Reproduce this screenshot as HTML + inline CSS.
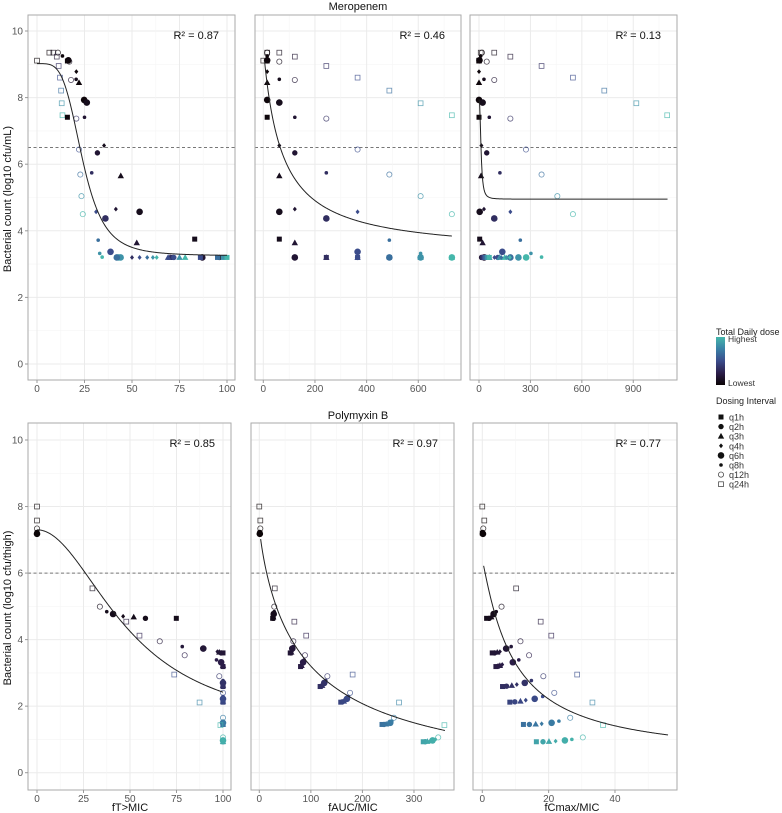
<!DOCTYPE html>
<html><head><meta charset="utf-8">
<style>
html,body{margin:0;padding:0;background:#fff;}
svg{display:block;font-family:"Liberation Sans",Arial,sans-serif;}
</style></head>
<body>
<svg id="chart" width="782" height="813" viewBox="0 0 782 813" xmlns="http://www.w3.org/2000/svg">
<defs>
<linearGradient id="doseGrad" x1="0" y1="1" x2="0" y2="0">
<stop offset="0" stop-color="#0b0405"/><stop offset="0.25" stop-color="#2c1e4a"/><stop offset="0.5" stop-color="#3b4c8b"/><stop offset="0.75" stop-color="#3a80a6"/><stop offset="1" stop-color="#45b7ab"/>
</linearGradient>
</defs>
<g id="panels"></g>
<text x="358" y="10" text-anchor="middle" font-size="11" fill="#111">Meropenem</text>
<text x="358" y="419" text-anchor="middle" font-size="11" fill="#111">Polymyxin B</text>
<text x="130" y="811" text-anchor="middle" font-size="11" fill="#111">fT&gt;MIC</text>
<text x="353" y="811" text-anchor="middle" font-size="11" fill="#111">fAUC/MIC</text>
<text x="572" y="811" text-anchor="middle" font-size="11" fill="#111">fCmax/MIC</text>
<text transform="translate(11,199) rotate(-90)" text-anchor="middle" font-size="11" fill="#111">Bacterial count (log10 cfu/mL)</text>
<text transform="translate(11,608) rotate(-90)" text-anchor="middle" font-size="11" fill="#111">Bacterial count (log10 cfu/thigh)</text>
<g id="legend">
<text x="716" y="335" font-size="9" fill="#222">Total Daily dose</text>
<rect x="716" y="337" width="9" height="48" fill="url(#doseGrad)"/>
<text x="728" y="342" font-size="8.5" fill="#333">Highest</text>
<text x="728" y="386" font-size="8.5" fill="#333">Lowest</text>
<text x="716" y="404" font-size="9" fill="#222">Dosing Interval</text>
<g id="legItems"></g>
</g>
</svg>
<script>
// ---------- Meropenem data (per regimen) ----------
const merY     = [9.11,9.35,9.10,9.12,9.25,9.35,9.35,9.23,9.08,8.78,8.45,8.55,8.53,8.95,8.6,8.21,7.83,7.47,7.93,7.85,7.41,7.41,7.37,6.56,6.34,6.44,5.74,5.69,5.65,5.04,4.57,4.65,4.37,4.57,4.5,3.75,3.64,3.72,3.37,3.32,3.2,3.2,3.2,3.2,3.2,3.2,3.2,3.2,3.21,3.2,3.2,3.2,3.2,3.2,3.2,3.2,3.2,3.2,3.2,3.2,3.2];
const merShape = ["q24h","q12h","q1h","q6h","q8h","q24h","q24h","q24h","q12h","q4h","q3h","q8h","q12h","q24h","q24h","q24h","q24h","q24h","q6h","q6h","q1h","q8h","q12h","q4h","q2h","q12h","q8h","q12h","q3h","q12h","q6h","q4h","q6h","q4h","q12h","q1h","q3h","q8h","q6h","q8h","q6h","q2h","q3h","q1h","q4h","q4h","q3h","q2h","q8h","q6h","q6h","q6h","q3h","q3h","q4h","q4h","q4h","q1h","q1h","q1h","q1h"];
const merAUC   = [0,15,15,15,15,15,62,122,62,15,15,62,122,244,365,488,609,730,15,62,15,122,244,62,122,365,244,488,62,609,62,122,244,365,730,62,122,488,365,609,122,122,244,244,244,365,365,365,730,730,609,488,609,730,488,609,730,365,488,609,730];
const merFT    = [0,11,16,16.5,13.4,6.5,8.6,10.4,17,20.7,22.1,20.6,17.9,11.4,12.1,12.7,13,13.4,24.8,26.2,16,25,20.7,35.3,31.8,22.1,28.8,22.8,44.1,23.4,54,41.5,36,31.1,24.1,83,52.5,32.2,38.7,33,87,96,70,71,50,54,69,72,34.3,43,44,42,75,78,58,61,63,86,95,98,100];
const merCmax  = [0,17,0,3,10,10,89,183,45,0,0,29,89,365,548,731,918,1098,0,21,0,60,183,14,45,274,122,365,12,457,4,29,89,183,548,4,21,241,136,303,30,15,40,20,60,90,60,110,365,275,230,183,120,150,130,160,180,30,40,50,60];
const merMaxAUC = 730;
// ---------- Polymyxin B data (per regimen) ----------
const polY     = [8.0,7.58,7.34,7.2,7.22,7.18,5.54,4.99,4.64,4.64,4.68,4.70,4.77,4.84,4.54,4.12,3.95,3.6,3.6,3.62,3.64,3.73,3.79,3.53,3.19,3.2,3.22,3.25,3.32,3.39,2.95,2.9,2.59,2.6,2.62,2.65,2.7,2.77,2.4,2.12,2.13,2.15,2.18,2.22,2.29,2.11,1.65,1.45,1.45,1.46,1.47,1.5,1.55,1.43,1.06,0.93,0.93,0.94,0.95,0.97,1.0];
const polShape = ["q24h","q24h","q12h","q1h","q2h","q6h","q24h","q12h","q1h","q2h","q3h","q4h","q6h","q8h","q24h","q24h","q12h","q1h","q2h","q3h","q4h","q6h","q8h","q12h","q1h","q2h","q3h","q4h","q6h","q8h","q24h","q12h","q1h","q2h","q3h","q4h","q6h","q8h","q12h","q1h","q2h","q3h","q4h","q6h","q8h","q24h","q12h","q1h","q2h","q3h","q4h","q6h","q8h","q24h","q12h","q1h","q2h","q3h","q4h","q6h","q8h"];
const polFT    = [0,0,0,0,0,0,29.8,33.8,74.9,58.3,52,46.3,40.9,37.5,48,55.1,66,100,99,98,97,89.4,78.1,79.4,100,100,100,99.5,99,96.5,73.8,98,100,100,100,100,100,100,100,100,100,100,100,100,100,87.4,100,100,100,100,100,100,100,98.6,100,100,100,100,100,100,100];
const polAUC   = [0,2,2,1,1,1,30,29,26,27,27,28,28,29,68,91,66,60,61,62,63,64,66,88.6,80,81,82,83,85,87,181,132,118,120,122,124,126,129,176,158,161,164,167,170,173,271,261,238,242,246,250,254,257,359,347,318,322,326,331,336,341];
const polCmax  = [0,0.6,0.3,0,0.1,0.2,10.2,5.8,1.3,2.1,2.7,3.0,3.4,4.2,17.6,20.8,11.5,3.0,3.7,4.5,5.3,7.2,8.7,14.1,4.1,4.8,5.3,6.0,9.2,11.0,28.6,18.4,6.1,7.3,8.9,10.4,12.8,14.8,21.7,8.3,9.8,11.5,13.1,15.8,18.2,33.2,26.5,12.4,14.2,16.1,17.9,20.9,23.1,36.4,30.3,16.3,18.3,20.1,22.1,24.9,27];
const polMaxAUC = 350;
// ---------- annotations ----------
const r2Labels = ["R² = 0.87","R² = 0.46","R² = 0.13","R² = 0.85","R² = 0.97","R² = 0.77"];
const yTicks = [0,2,4,6,8,10];
const xTicksP1 = [0,25,50,75,100];
const xTicksP2 = [0,200,400,600];
const xTicksP3 = [0,300,600,900];
const xTicksP4 = [0,25,50,75,100];
const xTicksP5 = [0,100,200,300];
const xTicksP6 = [0,20,40];
const intervals = ["q1h","q2h","q3h","q4h","q6h","q8h","q12h","q24h"];

const NS = "http://www.w3.org/2000/svg";
function mk(tag, attrs, parent){ const e=document.createElementNS(NS,tag); for(const k in attrs) e.setAttribute(k,attrs[k]); if(parent) parent.appendChild(e); return e; }
function lerp(a,b,t){return a+(b-a)*t;}
const stops=[[0,[11,4,5]],[0.25,[44,30,74]],[0.5,[59,76,139]],[0.75,[58,128,166]],[1,[69,183,171]]];
function doseColor(d){ d=Math.max(0,Math.min(1,d)); for(let i=1;i<stops.length;i++){ if(d<=stops[i][0]){ const t=(d-stops[i-1][0])/(stops[i][0]-stops[i-1][0]); const c=stops[i-1][1].map((v,j)=>Math.round(lerp(v,stops[i][1][j],t))); return `rgb(${c[0]},${c[1]},${c[2]})`; } } return "rgb(69,183,171)"; }

function drawSymbol(g, shape, cx, cy, col){
  let e;
  if(shape==="q1h") e=mk("rect",{x:cx-2.5,y:cy-2.5,width:5,height:5,fill:col},g);
  else if(shape==="q2h") e=mk("circle",{cx:cx,cy:cy,r:2.7,fill:col},g);
  else if(shape==="q3h") e=mk("polygon",{points:`${cx},${cy-3.3} ${cx+3.2},${cy+2.4} ${cx-3.2},${cy+2.4}`,fill:col},g);
  else if(shape==="q4h") e=mk("polygon",{points:`${cx},${cy-2.4} ${cx+2},${cy} ${cx},${cy+2.4} ${cx-2},${cy}`,fill:col},g);
  else if(shape==="q6h") e=mk("circle",{cx:cx,cy:cy,r:3.3,fill:col},g);
  else if(shape==="q8h") e=mk("circle",{cx:cx,cy:cy,r:1.8,fill:col},g);
  else if(shape==="q12h") e=mk("circle",{cx:cx,cy:cy,r:2.6,fill:"none",stroke:col,"stroke-width":0.8,"stroke-opacity":0.75},g);
  else e=mk("rect",{x:cx-2.4,y:cy-2.4,width:4.8,height:4.8,fill:"none",stroke:col,"stroke-width":0.8,"stroke-opacity":0.75},g);
  return e;
}

const panels = [
  {name:"meropenem-ft", L:28,R:235,T:15,B:380, x0:37,  k:1.9,    y0:364,  ky:33.3, xmin:-5,  xmax:104, ticks:xTicksP1, minor:12.5, thr:6.5, grp:"mer", xv:merFT,  ylab:true,  curve:x=>3.25+5.77/(1+Math.pow(x/24,4.2)), cx:[0,100]},
  {name:"meropenem-fauc",L:255,R:461,T:15,B:380, x0:263.3,k:0.2583,y0:364,ky:33.3, xmin:-30, xmax:770, ticks:xTicksP2, minor:100, thr:6.5, grp:"mer", xv:merAUC, ylab:false, curve:x=>9.5-6.2*x/(70+x), cx:[5,730]},
  {name:"meropenem-fcmax",L:470,R:677,T:15,B:380,x0:479,  k:0.1714,y0:364,ky:33.3, xmin:-50, xmax:1150,ticks:xTicksP3, minor:150, thr:6.5, grp:"mer", xv:merCmax,ylab:false, curve:x=>4.95+3.0/(1+Math.pow(x/12,2.5)), cx:[0,1100]},
  {name:"polymyxin-ft", L:28,R:231,T:423,B:790, x0:37,  k:1.86,   y0:772.7,ky:33.27,xmin:-5,  xmax:104, ticks:xTicksP4, minor:12.5, thr:6.0, grp:"pol", xv:polFT,  ylab:true,  curve:x=>1.2+6.1/(1+Math.pow(x/50,2)), cx:[0,100]},
  {name:"polymyxin-fauc",L:251,R:454,T:423,B:790,x0:259.3,k:0.5156,y0:772.7,ky:33.27,xmin:-17, xmax:377, ticks:xTicksP5, minor:50,  thr:6.0, grp:"pol", xv:polAUC, ylab:false, curve:x=>7.4-8*Math.pow(x,0.85)/(Math.pow(89,0.85)+Math.pow(x,0.85)), cx:[2.6,360]},
  {name:"polymyxin-fcmax",L:473,R:677,T:423,B:790,x0:482.3,k:3.317,y0:772.7,ky:33.27,xmin:-2.8,xmax:58.5,ticks:xTicksP6, minor:10, thr:6.0, grp:"pol", xv:polCmax,ylab:false, curve:x=>6.4-6*Math.pow(x,1.1)/(Math.pow(9.35,1.1)+Math.pow(x,1.1)), cx:[0.4,56]}
];

const root=document.getElementById("panels");
panels.forEach((p,pi)=>{
  const g=mk("g",{},root);
  
  
  const sx=v=>p.x0+p.k*v, sy=v=>p.y0-p.ky*v;
  const grid=mk("g",{},g);
  
  
  for(let v=-1; v<=11; v++){ const y=sy(v); if(y<p.T||y>p.B) continue; mk("line",{x1:p.L,x2:p.R,y1:y,y2:y,stroke:v%2===0?"#ebebeb":"#f5f5f5","stroke-width":v%2===0?1:0.6},grid); }
  const step=p.minor;
  for(let v=Math.ceil(p.xmin/step)*step; v<=p.xmax; v+=step){ const x=sx(v); if(x<p.L||x>p.R) continue; const major=p.ticks.some(t=>Math.abs(t-v)<1e-6); mk("line",{x1:x,x2:x,y1:p.T,y2:p.B,stroke:major?"#ebebeb":"#f5f5f5","stroke-width":major?1:0.6},grid); }
  const th=mk("line",{x1:p.L,x2:p.R,y1:sy(p.thr),y2:sy(p.thr),stroke:"#777","stroke-width":1,"stroke-dasharray":"3,2.5"},g);
  
  
  const pts=mk("g",{},g);
  
  
  const Y = p.grp==="mer"?merY:polY, S=p.grp==="mer"?merShape:polShape, A=p.grp==="mer"?merAUC:polAUC, M=p.grp==="mer"?merMaxAUC:polMaxAUC;
  for(let i=0;i<Y.length;i++){
    const e=drawSymbol(pts,S[i],sx(p.xv[i]),sy(Y[i]),doseColor(A[i]/M));
    
    
  }
  let d="";
  for(let j=0;j<=300;j++){ const x=p.cx[0]+(p.cx[1]-p.cx[0])*j/300; d+=(j?"L":"M")+sx(x).toFixed(2)+","+sy(p.curve(x)).toFixed(2); }
  const c=mk("path",{d:d,fill:"none",stroke:"#222","stroke-width":1},g);
  
  
  const b=mk("rect",{x:p.L,y:p.T,width:p.R-p.L,height:p.B-p.T,fill:"none",stroke:"#aaa","stroke-width":1},g);
  
  
  const r=mk("text",{x:p.R-16,y:p.T+24,"text-anchor":"end","font-size":11,fill:"#111"},g);
  r.textContent=r2Labels[pi];
  
  
  p.ticks.forEach(t=>{ const x=sx(t);
    mk("line",{x1:x,x2:x,y1:p.B,y2:p.B+3,stroke:"#999"},g);
    const tx=mk("text",{x:x,y:p.B+12,"text-anchor":"middle","font-size":10,fill:"#555"},g);
    tx.textContent=t;
    
    
  });
  if(p.ylab){ yTicks.forEach(t=>{ const y=sy(t);
    mk("line",{x1:p.L-3,x2:p.L,y1:y,y2:y,stroke:"#999"},g);
    const ty=mk("text",{x:p.L-5,y:y+3.5,"text-anchor":"end","font-size":10,fill:"#555"},g);
    ty.textContent=t;
    
    
  }); }
});

const leg=document.getElementById("legItems");
intervals.forEach((s,i)=>{
  const y=417+i*9.6;
  const gi=mk("g",{},leg);
  
  
  drawSymbol(gi,s,721,y,"#111");
  const t=mk("text",{x:729,y:y+3.5,"font-size":9,fill:"#333"},gi);
  t.textContent=s;
});
</script>
</body></html>
